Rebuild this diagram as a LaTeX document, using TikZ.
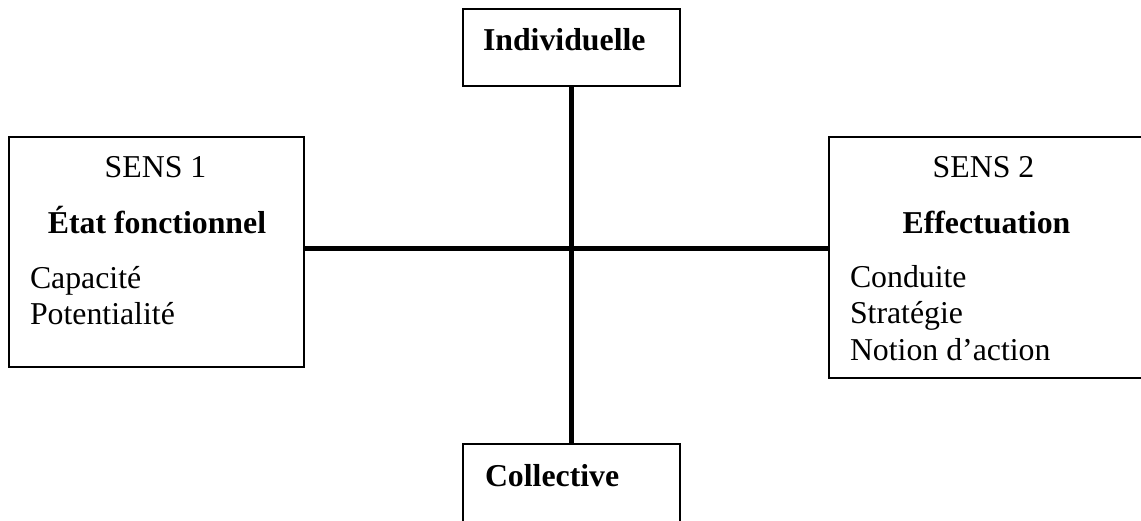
\documentclass[tikz,border=0pt]{standalone}
\usepackage{fontspec}
\setmainfont{Liberation Serif}
\begin{document}
\begin{tikzpicture}[x=1pt,y=-1pt,
  boxframe/.style={draw, line width=1.5pt, rectangle, inner sep=0pt, outer sep=0pt},
  txt/.style={inner sep=0pt, outer sep=0pt, font=\fontsize{31.8}{36}\selectfont},
  btxt/.style={txt, font=\fontsize{31.8}{36}\selectfont\bfseries},
  axis/.style={line width=5pt}]
\useasboundingbox (0,0) rectangle (1141,520);
\clip (0,0) rectangle (1141,520);
\fill[white] (0,0) rectangle (1141,520);
% boxes
\node[boxframe, minimum width=217pt, minimum height=77pt] (top) at (571.5,47.5) {};
\node[boxframe, minimum width=217pt, minimum height=100pt] (bot) at (571.5,494) {};
\node[boxframe, minimum width=295pt, minimum height=230pt] (left) at (156.5,252) {};
\node[boxframe, minimum width=320pt, minimum height=241pt] (right) at (989,257.5) {};
% axes
\draw[axis] (top.south) -- (bot.north);
\coordinate (lc) at (left.east |- 0,248);
\coordinate (rc) at (right.west |- 0,248);
\draw[axis] (lc) -- (rc);
% texts
\node[btxt, anchor=base west] (tind) at (483,50) {Individuelle};
\node[btxt, anchor=base west] (tcol) at (485,486) {Collective};
\node[txt, anchor=base] (s1) at (155.5,177) {SENS 1};
\node[btxt, anchor=base] (ef) at (157,233) {État fonctionnel};
\node[txt, anchor=base west] (l1) at (30,288) {Capacité};
\node[txt, anchor=base west] (l2) at (30,324) {Potentialité};
\node[txt, anchor=base] (s2) at (983.5,177) {SENS 2};
\node[btxt, anchor=base] (eff) at (986.5,233) {Effectuation};
\node[txt, anchor=base west] (r1) at (850,287) {Conduite};
\node[txt, anchor=base west] (r2) at (850,323) {Stratégie};
\node[txt, anchor=base west] (r3) at (850,360) {Notion d’action};
\end{tikzpicture}
\end{document}
